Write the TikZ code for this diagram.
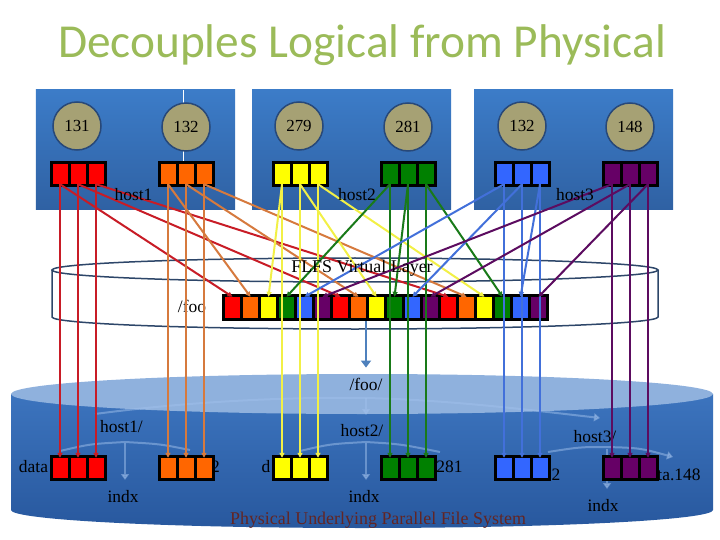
\documentclass[tikz,border=0pt]{standalone}
\usepackage{fontspec}
\setmainfont{Liberation Serif}
\newfontfamily\titlefont{Carlito}
\usetikzlibrary{arrows.meta}
\definecolor{titlegreen}{RGB}{155,187,89}
\definecolor{boxtop}{RGB}{60,124,200}
\definecolor{boxbot}{RGB}{47,97,163}
\definecolor{proctan}{RGB}{166,161,116}
\definecolor{procrim}{RGB}{40,72,120}
\definecolor{layerrim}{RGB}{45,70,105}
\definecolor{pfstop}{RGB}{143,177,221}
\definecolor{pfsbody}{RGB}{60,116,190}
\definecolor{pfsbot}{RGB}{40,88,158}
\definecolor{dirblue}{RGB}{160,192,235}
\definecolor{fooarrow}{RGB}{79,129,189}
\definecolor{pfsred}{RGB}{99,37,35}
\definecolor{pc1}{RGB}{255,0,0}
\definecolor{pc2}{RGB}{255,102,0}
\definecolor{pc3}{RGB}{255,255,0}
\definecolor{pc4}{RGB}{0,128,0}
\definecolor{pc5}{RGB}{51,102,255}
\definecolor{pc6}{RGB}{102,0,102}
\definecolor{lc1}{RGB}{200,28,38}
\definecolor{lc2}{RGB}{214,122,62}
\definecolor{lc3}{RGB}{242,240,70}
\definecolor{lc4}{RGB}{25,122,25}
\definecolor{lc5}{RGB}{66,112,218}
\definecolor{lc6}{RGB}{92,12,96}
\begin{document}
\begin{tikzpicture}[x=1bp,y=-1bp,
  hostbox/.style={minimum width=199bp,minimum height=120bp,inner sep=0pt,
    top color=boxtop,bottom color=boxbot,draw=none},
  proc/.style={circle,minimum size=48bp,inner sep=0pt,fill=proctan,draw=procrim,
    line width=1.5bp,font=\fontsize{17}{20}\selectfont},
  triframe/.style={minimum width=57bp,minimum height=26bp,inner sep=0pt,fill=black},
  cell/.style={minimum width=15bp,minimum height=20bp,inner sep=0pt},
  lbl/.style={inner sep=0pt,font=\fontsize{17.5}{20}\selectfont},
  biglbl/.style={inner sep=0pt,font=\fontsize{18}{20}\selectfont},
  arr/.style={-{Triangle[length=5bp,width=5bp]},line width=2bp},
  dirarr/.style={draw=dirblue,opacity=0.5,line width=2bp,-{Triangle[length=6bp,width=8bp]}}
]
\useasboundingbox (0,0) rectangle (720,540);
\node[anchor=base,text=titlegreen,font=\titlefont\fontsize{47.5}{50}\selectfont] (title) at (362,58) {Decouples Logical from Physical};

\node[hostbox] (host1box) at (135.5,150) {};
\node[hostbox] (host2box) at (351.5,150) {};
\node[hostbox] (host3box) at (573.5,150) {};
\draw[white,line width=0.6bp] (183,90) -- (183,161);
\node[proc] (r1) at (77,126) {131};
\node[proc] (r2) at (186,127) {132};
\node[proc] (r3) at (299,126) {279};
\node[proc] (r4) at (408,127) {281};
\node[proc] (r5) at (522,126) {132};
\node[proc] (r6) at (630,127) {148};

\draw[layerrim,line width=1.5bp] (52,270) -- (52,317) arc[start angle=180,end angle=0,x radius=303,y radius=12] -- (658,270);
\draw[layerrim,line width=1.5bp] (355,270) ellipse[x radius=303,y radius=12];

\shade[top color=pfsbody,bottom color=pfsbot] (11,394) -- (11,510) arc[start angle=180,end angle=0,x radius=351,y radius=18] -- (713,394) -- cycle;
\fill[pfstop] (362,394) ellipse[x radius=351,y radius=20];

\draw[dirarr] (95,414) .. controls (200,400) and (300,397) .. (366,398) .. controls (450,400) and (530,410) .. (600,418);
\draw[dirarr] (366,398) -- (366,415);
\draw[dirarr,-] (60,451) .. controls (90,444) .. (125,442) .. controls (160,444) .. (190,450);
\draw[dirarr] (125,443) -- (125,480);
\draw[dirarr,-] (300,451) .. controls (330,444) .. (366,442) .. controls (400,444) .. (440,452);
\draw[dirarr] (366,443) -- (366,480);
\draw[dirarr] (548,452) .. controls (580,447) .. (607,447) .. controls (640,448) .. (673,457);
\draw[dirarr] (607,449) -- (607,489);

\node[lbl] (foolbl) at (192,306) {/foo};
\node[lbl] (foodir) at (366,384) {/foo/};
\node[lbl] (dir1) at (121.5,427) {host1/};
\node[lbl] (dir2) at (362,431) {host2/};
\node[lbl] (dir3) at (595,437) {host3/};
\node[lbl] (indx1) at (123,497) {indx};
\node[lbl] (indx2) at (364,497) {indx};
\node[lbl] (indx3) at (603,506) {indx};
\node[lbl] (file1) at (33.5,467) {data};
\node[lbl] (file2) at (215.5,467) {2};
\node[lbl] (file3) at (266,467) {d};
\node[lbl] (file4) at (449.5,467) {281};
\node[lbl] (file5) at (556,475) {2};
\node[lbl] (file6) at (679,475) {ta.148};
\node[biglbl,text=pfsred] (pfs) at (378,520) {Physical Underlying Parallel File System};

\node[inner sep=0pt,minimum width=327bp,minimum height=27bp,fill=black] (bar) at (385.5,307.5) {};
\foreach \i in {0,...,17} {
  \pgfmathtruncatemacro\c{mod(\i,6)+1}
  \node[cell,minimum height=21bp,fill=pc\c] (s\i) at ({232.5+18*\i},307.5) {};
}
\foreach \p/\X in {1/78,2/186,3/300,4/408,5/522,6/630} {
  \node[triframe] (tf\p) at (\X,174) {};
  \node[triframe] (bf\p) at (\X,468) {};
  \foreach \k/\dx in {1/-18,2/0,3/18} {
    \node[cell,fill=pc\p] (t\p-\k) at ({\X+\dx},174) {};
    \node[cell,fill=pc\p] (b\p-\k) at ({\X+\dx},468) {};
  }
}

\foreach \p in {1,...,6} {
  \foreach \k in {1,2,3} {
    \pgfmathtruncatemacro\slot{\p-1+6*(\k-1)}
    \draw[arr,lc\p] (t\p-\k.south) -- (s\slot.north);
    \draw[arr,lc\p] (t\p-\k.south) -- (b\p-\k.north);
  }
}
\draw[line width=2.5bp,fooarrow,-{Triangle[length=7bp,width=10bp]},shorten >=10bp] (bar.south -| foodir) -- (foodir.north);

\node[lbl] (h1) at (133.5,195) {host1};
\node[lbl] (h2) at (357,195) {host2};
\node[lbl] (h3) at (575,195) {host3};
\node[biglbl] (vlayer) at (362,268) {FLFS Virtual Layer};
\end{tikzpicture}
\end{document}
